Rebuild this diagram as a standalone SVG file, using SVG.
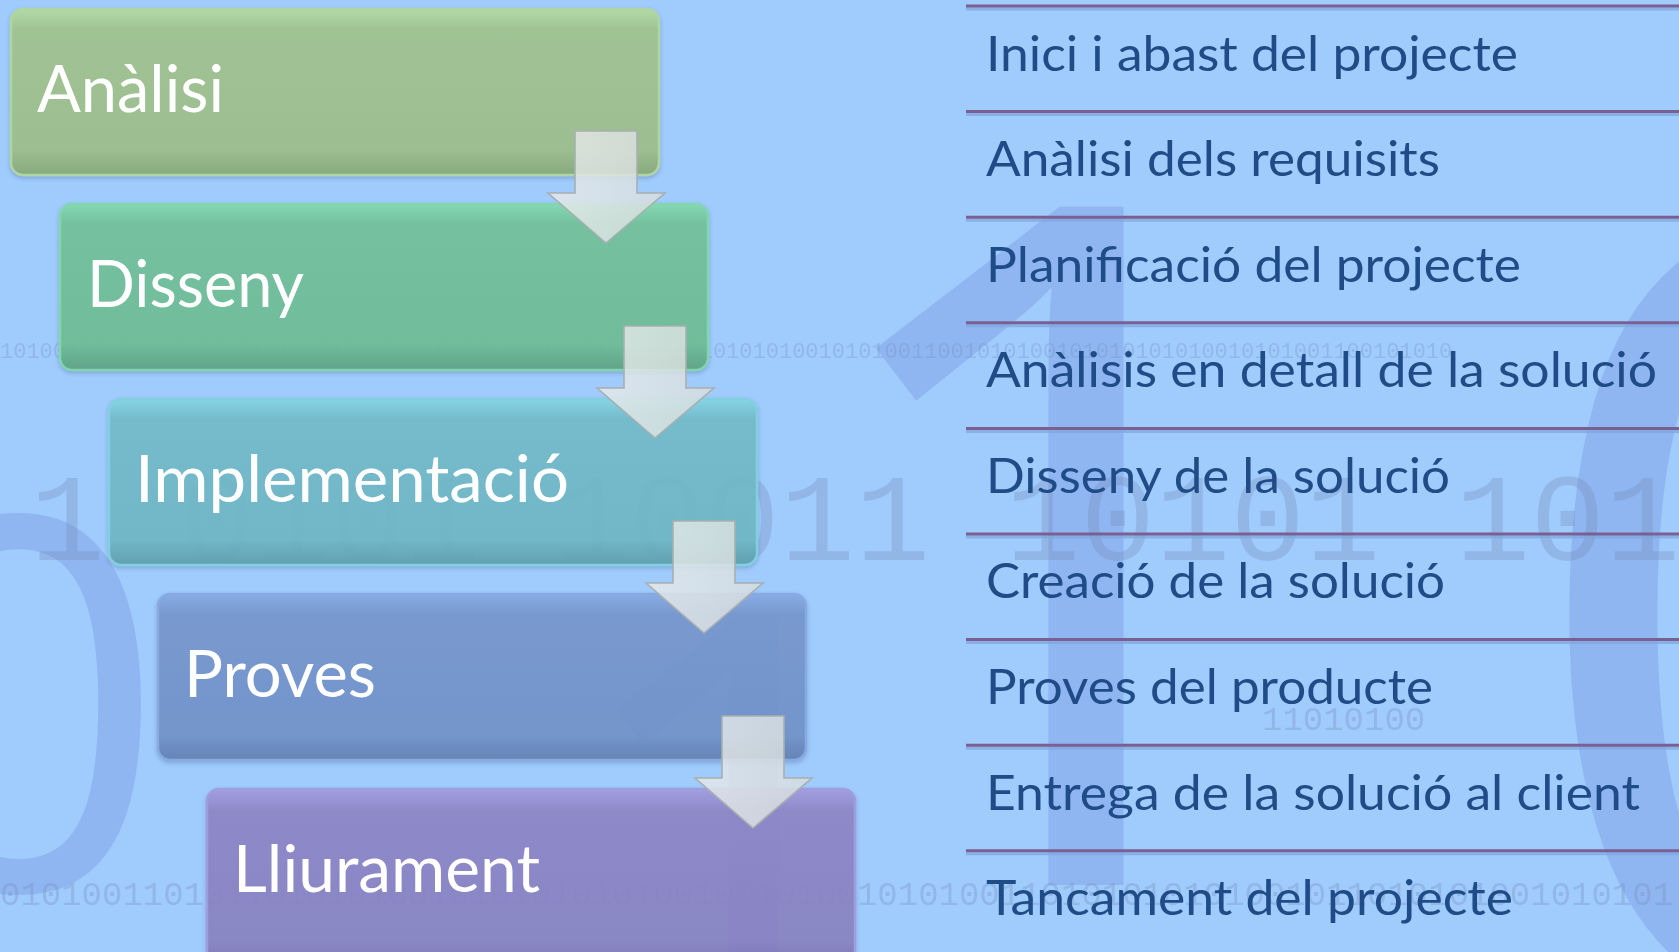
<svg xmlns="http://www.w3.org/2000/svg" width="1679" height="952" viewBox="0 0 1679 952">
<style>
.bigd{font-family:"Open Sans","Liberation Sans",sans-serif;fill:#7d9de6;opacity:0.45}
.bin{font-family:"Liberation Mono","Courier New",monospace;fill:#6f86b0;opacity:0.28}
.lbl{font-family:Lato,"Open Sans",sans-serif;fill:#ffffff;font-size:66px}
.item{font-family:Lato,"Open Sans",sans-serif;fill:#1f4c86;font-size:48px}
.sep{stroke:#7a5f92;stroke-width:3}
.seps{stroke:#7fa6de;stroke-width:3;opacity:0.7}
.arrow{stroke:#a8afb0;stroke-width:1.6;stroke-linejoin:miter}
.box{stroke-width:2.5}
</style>
<defs>
<linearGradient id="g1" x1="0" y1="0" x2="0" y2="1"><stop offset="0" stop-color="#b4dca2"/><stop offset="0.12" stop-color="#a1c38f"/><stop offset="0.85" stop-color="#9cbe8b"/><stop offset="1" stop-color="#87a878"/></linearGradient>
<linearGradient id="g2" x1="0" y1="0" x2="0" y2="1"><stop offset="0" stop-color="#84daaf"/><stop offset="0.12" stop-color="#72c09a"/><stop offset="0.85" stop-color="#6ebc96"/><stop offset="1" stop-color="#5da283"/></linearGradient>
<linearGradient id="g3" x1="0" y1="0" x2="0" y2="1"><stop offset="0" stop-color="#84d6e4"/><stop offset="0.12" stop-color="#72bac8"/><stop offset="0.85" stop-color="#6eb6c4"/><stop offset="1" stop-color="#5d9eac"/></linearGradient>
<linearGradient id="g4" x1="0" y1="0" x2="0" y2="1"><stop offset="0" stop-color="#88aae4"/><stop offset="0.12" stop-color="#7596cc"/><stop offset="0.85" stop-color="#7192c8"/><stop offset="1" stop-color="#627fb1"/></linearGradient>
<linearGradient id="g5" x1="0" y1="0" x2="0" y2="1"><stop offset="0" stop-color="#a29cde"/><stop offset="0.12" stop-color="#8d86c5"/><stop offset="0.85" stop-color="#8982c1"/><stop offset="1" stop-color="#766fab"/></linearGradient>
<linearGradient id="ga" x1="0" y1="0" x2="1" y2="0"><stop offset="0" stop-color="#e6eaea"/><stop offset="0.5" stop-color="#e0e5e5"/><stop offset="1" stop-color="#d8dede"/></linearGradient>
<filter id="sh" x="-5%" y="-10%" width="110%" height="125%"><feDropShadow dx="0" dy="2" stdDeviation="2" flood-color="#3a5a8a" flood-opacity="0.35"/></filter>
<path id="arr" d="M0,0 H62 V62 H90 L31,112 L-27,62 H0 Z"/>
</defs>

<g id="background">
<rect x="0" y="0" width="1679" height="952" fill="#a0cbfd"/>
<text class="bigd" x="790" y="885" font-size="950">1</text>
<text class="bigd" x="1515" y="1000" font-size="1080">0</text>
<text class="bigd" x="-130" y="890" font-size="520">0</text>
<text class="bigd" x="560" y="1060" font-size="620" opacity="0.3">1</text>
<text class="bin" x="0" y="358" font-size="22" opacity="0.35">10100100101010100101010101010010101001100101010010010101010100101010011001010100101010101010010101001100101010</text>
<text class="bin" x="30" y="560" font-size="125" opacity="0.16">1 0101 10011 10101 10101 1</text>
<text class="bin" x="0" y="905" font-size="34" opacity="0.25">0101001101011010101001010101010100100101001010100110101010101001011010101001010101</text>
<text class="bin" x="1262" y="730" font-size="34" opacity="0.25">11010100</text>
</g>

<g id="node-analisi">
<rect class="box" x="11" y="9" width="648" height="166" rx="12" fill="url(#g1)" stroke="#b0d69e" filter="url(#sh)" opacity="0.95"/>
<text class="lbl" x="37" y="112" textLength="187" lengthAdjust="spacingAndGlyphs">Anàlisi</text>
</g>
<g id="node-disseny">
<rect class="box" x="60" y="204" width="648" height="166" rx="12" fill="url(#g2)" stroke="#80d6ac" filter="url(#sh)" opacity="0.95"/>
<text class="lbl" x="87" y="307" textLength="217" lengthAdjust="spacingAndGlyphs">Disseny</text>
</g>
<g id="node-implementacio">
<rect class="box" x="109" y="399" width="648" height="166" rx="12" fill="url(#g3)" stroke="#80d0de" filter="url(#sh)" opacity="0.93"/>
<text class="lbl" x="135" y="502" textLength="434" lengthAdjust="spacingAndGlyphs">Implementació</text>
</g>
<g id="node-proves">
<rect class="box" x="158" y="594" width="648" height="166" rx="12" fill="url(#g4)" stroke="#86a8e0" filter="url(#sh)" opacity="0.93"/>
<text class="lbl" x="184" y="697" textLength="192" lengthAdjust="spacingAndGlyphs">Proves</text>
</g>
<g id="node-lliurament">
<rect class="box" x="207" y="789" width="648" height="180" rx="12" fill="url(#g5)" stroke="#9e9adc" filter="url(#sh)" opacity="0.93"/>
<text class="lbl" x="233" y="892" textLength="307" lengthAdjust="spacingAndGlyphs">Lliurament</text>
</g>

<g id="connectors">
<use href="#arr" class="arrow" x="575" y="131" fill="url(#ga)" fill-opacity="0.82"/>
<use href="#arr" class="arrow" x="624" y="326" fill="url(#ga)" fill-opacity="0.82"/>
<use href="#arr" class="arrow" x="673" y="521" fill="url(#ga)" fill-opacity="0.82"/>
<use href="#arr" class="arrow" x="722" y="716" fill="url(#ga)" fill-opacity="0.82"/>
</g>

<g id="list">
<g id="separators">
<line class="seps" x1="966" y1="9" x2="1679" y2="9"/>
<line class="sep" x1="966" y1="6" x2="1679" y2="6"/>
<line class="seps" x1="966" y1="114.6" x2="1679" y2="114.6"/>
<line class="sep" x1="966" y1="111.6" x2="1679" y2="111.6"/>
<line class="seps" x1="966" y1="220.2" x2="1679" y2="220.2"/>
<line class="sep" x1="966" y1="217.2" x2="1679" y2="217.2"/>
<line class="seps" x1="966" y1="325.8" x2="1679" y2="325.8"/>
<line class="sep" x1="966" y1="322.8" x2="1679" y2="322.8"/>
<line class="seps" x1="966" y1="431.4" x2="1679" y2="431.4"/>
<line class="sep" x1="966" y1="428.4" x2="1679" y2="428.4"/>
<line class="seps" x1="966" y1="537" x2="1679" y2="537"/>
<line class="sep" x1="966" y1="534" x2="1679" y2="534"/>
<line class="seps" x1="966" y1="642.6" x2="1679" y2="642.6"/>
<line class="sep" x1="966" y1="639.6" x2="1679" y2="639.6"/>
<line class="seps" x1="966" y1="748.2" x2="1679" y2="748.2"/>
<line class="sep" x1="966" y1="745.2" x2="1679" y2="745.2"/>
<line class="seps" x1="966" y1="853.8" x2="1679" y2="853.8"/>
<line class="sep" x1="966" y1="850.8" x2="1679" y2="850.8"/>
</g>
<text class="item" x="986" y="70.5" textLength="532" lengthAdjust="spacingAndGlyphs">Inici i abast del projecte</text>
<text class="item" x="986" y="176" textLength="454" lengthAdjust="spacingAndGlyphs">Anàlisi dels requisits</text>
<text class="item" x="986" y="282" textLength="535" lengthAdjust="spacingAndGlyphs">Planificació del projecte</text>
<text class="item" x="986" y="387" textLength="671" lengthAdjust="spacingAndGlyphs">Anàlisis en detall de la solució</text>
<text class="item" x="986" y="493" textLength="464" lengthAdjust="spacingAndGlyphs">Disseny de la solució</text>
<text class="item" x="986" y="598" textLength="459" lengthAdjust="spacingAndGlyphs">Creació de la solució</text>
<text class="item" x="986" y="704" textLength="447" lengthAdjust="spacingAndGlyphs">Proves del producte</text>
<text class="item" x="986" y="810" textLength="654" lengthAdjust="spacingAndGlyphs">Entrega de la solució al client</text>
<text class="item" x="986" y="915" textLength="527" lengthAdjust="spacingAndGlyphs">Tancament del projecte</text>
</g>
</svg>
